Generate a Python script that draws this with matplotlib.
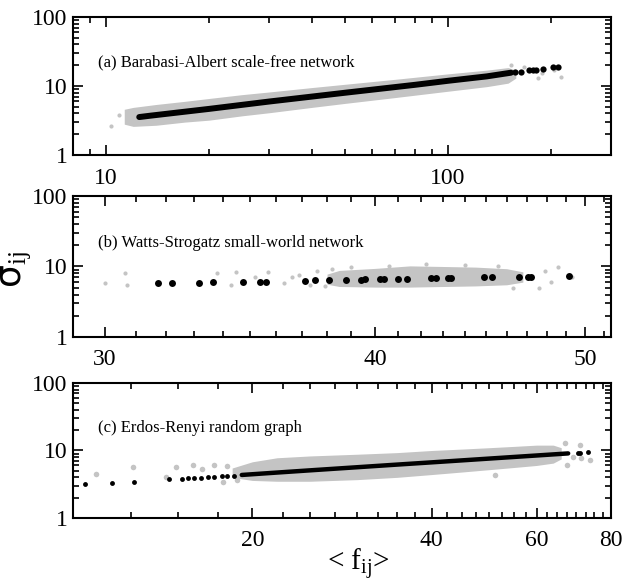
import numpy as np
import matplotlib.pyplot as plt
from matplotlib.ticker import FixedLocator, LogLocator, NullFormatter

plt.rcParams['font.family'] = ['Liberation Serif', 'DejaVu Sans']
plt.rcParams['mathtext.fontset'] = 'custom'
plt.rcParams['mathtext.rm'] = 'Liberation Serif'
plt.rcParams['mathtext.it'] = 'Liberation Serif:italic'

GRAY = '#c4c4c4'

# (a) Barabasi-Albert: gray cloud envelope, black mean curve, sparse tail
a_env_x = [11.3, 12, 14, 17, 20, 25, 30, 40, 50, 70, 100, 130, 150, 158]
a_env_hi = [4.6, 4.9, 5.4, 6.0, 6.6, 7.5, 8.2, 9.5, 10.6, 12.5, 15.0, 17.0, 18.5, 17.0]
a_env_lo = [2.8, 2.6, 2.7, 3.0, 3.2, 3.7, 4.1, 4.9, 5.6, 6.8, 8.4, 9.8, 11.0, 13.0]
a_gray_x = [10.3, 10.9, 153, 167, 183, 189, 205, 214]
a_gray_y = [2.65, 3.8, 20.2, 19.1, 12.9, 15.3, 17.1, 13.7]
a_line_x = [12.5, 13.5, 20, 30, 50, 80, 100, 130, 153]
a_line_y = [3.55, 3.72, 4.66, 5.96, 7.99, 10.4, 11.9, 13.8, 15.6]
a_dot_x = [157, 164, 173, 177, 181, 190, 203, 210]
a_dot_y = [15.8, 16.1, 16.8, 16.8, 16.9, 17.4, 18.6, 19.1]

# (b) Watts-Strogatz
b_env_x = [38.0, 38.5, 40, 41.5, 43, 44.5, 46, 46.8]
b_env_hi = [7.8, 8.8, 9.4, 10.2, 10.0, 9.8, 9.3, 8.4]
b_env_lo = [5.6, 5.2, 5.1, 5.1, 5.2, 5.3, 5.5, 6.0]
b_gray_x = [30.0, 30.65, 30.7, 33.8, 34.3, 34.5, 35.2, 35.7, 36.3, 36.6, 36.9, 37.3,
            37.6, 37.9, 38.2, 39.0, 40.6, 42.2, 44.0, 45.6, 46.3,
            47.6, 47.9, 48.2, 48.6, 49.3]
b_gray_y = [5.8, 8.0, 5.5, 8.0, 5.5, 8.4, 7.2, 8.4, 5.8, 7.0, 7.6, 5.4,
            8.6, 5.3, 9.2, 9.9, 10.2, 10.8, 10.5, 10.0, 4.9,
            5.0, 8.6, 6.0, 9.9, 7.2]
b_dot_x = [31.73, 32.21, 33.15, 33.64, 34.74, 35.40, 35.62, 37.11, 37.53, 38.09, 38.76,
           39.41, 39.58, 40.22, 40.37, 41.00, 41.38, 42.45, 42.68, 43.21, 43.36, 44.92,
           45.28, 46.61, 47.06, 47.20, 49.15]
b_dot_y = [5.8, 5.85, 5.9, 5.95, 6.0, 6.1, 6.1, 6.3, 6.4, 6.4, 6.5, 6.5, 6.55, 6.6,
           6.6, 6.65, 6.7, 6.8, 6.8, 6.85, 6.9, 7.0, 7.05, 7.1, 7.15, 7.2, 7.4]

# (c) Erdos-Renyi
c_env_x = [18.5, 20, 22, 25, 30, 35, 40, 45, 50, 55, 60, 64, 66]
c_env_hi = [5.5, 6.8, 7.8, 8.3, 8.8, 9.3, 10.0, 10.5, 11.0, 11.5, 12.0, 12.0, 11.0]
c_env_lo = [4.0, 3.6, 3.5, 3.5, 3.7, 4.0, 4.4, 4.8, 5.2, 5.6, 6.0, 6.5, 7.5]
c_gray_x = [10.92, 12.63, 14.32, 14.89, 15.92, 16.45, 17.27, 17.88, 18.11, 18.83,
            51.1, 67.0, 67.4, 69.1, 70.9, 71.3, 73.8]
c_gray_y = [4.48, 5.75, 4.0, 5.64, 6.1, 5.27, 6.2, 3.45, 5.9, 3.65,
            4.3, 12.8, 6.1, 8.1, 12.1, 7.7, 7.2]
c_dot_x = [10.47, 11.61, 12.67, 14.49, 15.22, 15.62, 15.98, 16.38, 16.87, 17.24,
           17.81, 18.11, 18.65, 70.5, 71.0, 73.2]
c_dot_y = [3.16, 3.33, 3.45, 3.74, 3.83, 3.87, 3.91, 3.95, 4.05, 4.09,
           4.14, 4.19, 4.24, 9.3, 9.3, 9.4]
c_line_x = [19.2, 22, 25, 30, 35, 40, 45, 50, 55, 60, 65, 67.8]
c_line_y = [4.34, 4.71, 5.08, 5.65, 6.18, 6.67, 7.14, 7.59, 8.02, 8.43, 8.83, 9.05]

titles = ['(a) Barabasi-Albert scale-free network',
          '(b) Watts-Strogatz small-world network',
          '(c) Erdos-Renyi random graph']

fig = plt.figure(figsize=(6.26, 5.83), dpi=100)
ax_a = fig.add_axes([0.1166, 0.7341, 0.8594, 0.2367])
ax_b = fig.add_axes([0.1166, 0.4220, 0.8594, 0.2418])
ax_c = fig.add_axes([0.1166, 0.1115, 0.8594, 0.2316])


def style(ax, xlim, xticks, xminor, title):
    ax.set_xscale('log')
    ax.set_yscale('log')
    ax.set_xlim(xlim)
    ax.set_ylim(1, 100)
    ax.set_xticks(xticks)
    ax.set_xticklabels([str(t) for t in xticks])
    if xminor is not None:
        ax.xaxis.set_minor_locator(FixedLocator(xminor))
    ax.xaxis.set_minor_formatter(NullFormatter())
    ax.set_yticks([1, 10, 100])
    ax.set_yticklabels(['1', '10', '100'])
    ax.yaxis.set_minor_locator(LogLocator(subs=range(2, 10)))
    ax.yaxis.set_minor_formatter(NullFormatter())
    ax.tick_params(which='both', direction='in', top=True, right=True, width=1.2)
    ax.tick_params(which='major', length=7, labelsize=17, pad=9)
    ax.tick_params(which='minor', length=4)
    ax.tick_params(axis='y', which='major', pad=4)
    for s in ax.spines.values():
        s.set_linewidth(1.5)
    ax.text(0.046, 0.67, title, transform=ax.transAxes, fontsize=12, va='center')


# (a)
ax_a.fill_between(a_env_x, a_env_lo, a_env_hi, color=GRAY, lw=0)
ax_a.plot(a_gray_x, a_gray_y, 'o', color=GRAY, ms=3, mec='none')
ax_a.plot(a_line_x, a_line_y, '-', color='black', lw=4.3, solid_capstyle='round')
ax_a.plot(a_dot_x, a_dot_y, 'o', color='black', ms=4.5, mec='none')
style(ax_a, (8, 300), [10, 100], None, titles[0])

# (b)
ax_b.fill_between(b_env_x, b_env_lo, b_env_hi, color=GRAY, lw=0)
ax_b.plot(b_gray_x, b_gray_y, 'o', color=GRAY, ms=3, mec='none')
ax_b.plot(b_dot_x, b_dot_y, 'o', color='black', ms=5, mec='none')
style(ax_b, (29, 51.4), [30, 40, 50], list(range(29, 52)), titles[1])

# (c)
ax_c.fill_between(c_env_x, c_env_lo, c_env_hi, color=GRAY, lw=0)
ax_c.plot(c_gray_x, c_gray_y, 'o', color=GRAY, ms=4, mec='none')
ax_c.plot(c_line_x, c_line_y, '-', color='black', lw=3.2, solid_capstyle='round')
ax_c.plot(c_dot_x, c_dot_y, 'o', color='black', ms=3.5, mec='none')
style(ax_c, (10, 80), [20, 40, 60, 80], list(np.arange(12.5, 80, 2.5)), titles[2])

fig.text(0.026, 0.537, 'σ$_{\\mathrm{ij}}$', rotation=90, fontsize=26,
         family='DejaVu Sans', ha='center', va='center')
fig.text(0.573, 0.031, '< f$_{\\mathrm{ij}}$>', fontsize=21, ha='center', va='center')

plt.savefig('out.png', dpi=100)
